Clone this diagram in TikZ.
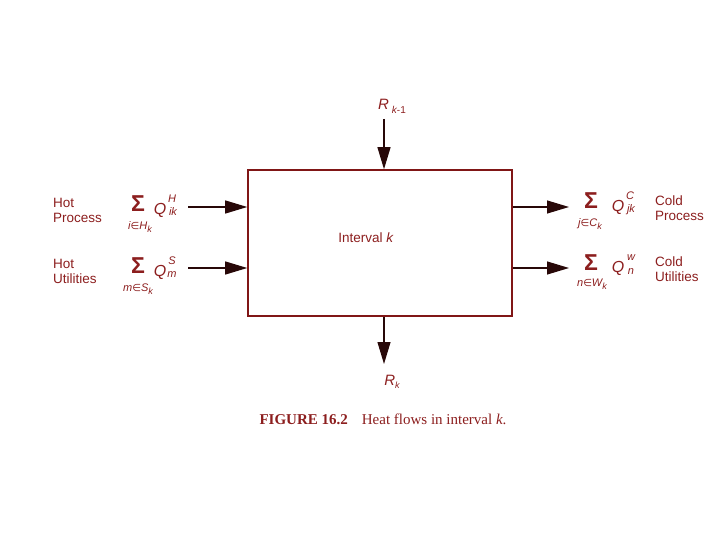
\documentclass[tikz,border=0pt]{standalone}
\usepackage{fontspec}
\setmainfont{Liberation Sans}
\newfontfamily\capfont{Liberation Serif}
\newfontfamily\symfont{DejaVu Sans}
\usetikzlibrary{arrows.meta}
\definecolor{dred}{RGB}{128,22,22}
\definecolor{tred}{RGB}{140,30,30}
\definecolor{arr}{RGB}{40,8,8}
\tikzset{
  lbl/.style={text=tred,font=\fontsize{13.5}{15}\selectfont,align=left,inner sep=0pt,anchor=west},
  sig/.style={text=tred,font=\fontsize{23}{23}\selectfont\bfseries,inner sep=0pt},
  qq/.style={text=tred,font=\fontsize{16}{16}\selectfont\itshape,inner sep=0pt},
  sm/.style={text=tred,font=\fontsize{11}{11}\selectfont\itshape,inner sep=0pt},
  flow/.style={draw=arr,line width=1.1pt,-{Triangle[length=22pt,width=13pt]}},
}
\newcommand{\elm}{{\symfont\upshape\fontsize{10}{10}\selectfont∈}}
\newcommand{\sbk}{\raisebox{-3pt}{\fontsize{9}{9}\selectfont k}}
\begin{document}
\begin{tikzpicture}[x=1pt,y=-1pt]
\useasboundingbox (0,0) rectangle (720,540);
\node[draw=dred,line width=1.6pt,minimum width=264pt,minimum height=146pt,inner sep=0pt] (box) at (380,243) {};
\node[text=tred,font=\fontsize{13.5}{15}\selectfont] (int) at (366,238) {Interval \textit{k}};
% left labels
\node[lbl] (hp) at (53,210) {Hot\\Process};
\node[lbl] (hu) at (53,271) {Hot\\Utilities};
\node[lbl] (cp) at (655,208) {Cold\\Process};
\node[lbl] (cu) at (655,269) {Cold\\Utilities};
% sums left
\node[sig] (s1) at (138,204) {Σ};
\node[qq] (q1) at (160,210) {Q};
\node[sm] (q1u) at (172,199) {H};
\node[sm] (q1d) at (173,212) {ik};
\node[sm] (q1b) at (140,227) {i\elm H\sbk};
\node[sig] (s2) at (138,266) {Σ};
\node[qq] (q2) at (160,272) {Q};
\node[sm] (q2u) at (172,261) {S};
\node[sm] (q2d) at (172,275) {m};
\node[sm] (q2b) at (138,289) {m\elm S\sbk};
% sums right
\node[sig] (s3) at (591,201) {Σ};
\node[qq] (q3) at (618,207) {Q};
\node[sm] (q3u) at (630,196) {C};
\node[sm] (q3d) at (631,210) {jk};
\node[sm] (q3b) at (590,224) {j\elm C\sbk};
\node[sig] (s4) at (591,263) {Σ};
\node[qq] (q4) at (618,268) {Q};
\node[sm] (q4u) at (631,258) {w};
\node[sm] (q4d) at (631,272) {n};
\node[sm] (q4b) at (592,284) {n\elm W\sbk};
% R labels
\node[qq,font=\fontsize{15}{15}\selectfont\itshape] (r1) at (392,106) {R\hspace{3pt}\raisebox{-4pt}{\fontsize{10}{10}\selectfont k{\upshape -1}}};
\node[qq,font=\fontsize{15}{15}\selectfont\itshape] (r2) at (392,382) {R\raisebox{-3pt}{\fontsize{9}{9}\selectfont k}};
% caption
\node[text=tred,font=\capfont\fontsize{15}{17}\selectfont,inner sep=0pt] (cap) at (383,419) {\textbf{FIGURE 16.2}\hspace{14pt}Heat flows in interval \textit{k}.};
% connectors
\coordinate (a1) at (188,207);
\coordinate (a2) at (188,268);
\coordinate (b1) at (569,207);
\coordinate (b2) at (569,268);
\coordinate (t) at (384,119);
\coordinate (b) at (384,364);
\draw[flow] (a1) -- (box.west |- a1);
\draw[flow] (a2) -- (box.west |- a2);
\draw[flow] (box.east |- b1) -- (b1);
\draw[flow] (box.east |- b2) -- (b2);
\draw[flow] (t) -- (t |- box.north);
\draw[flow] (t |- box.south) -- (b);
\end{tikzpicture}
\end{document}
